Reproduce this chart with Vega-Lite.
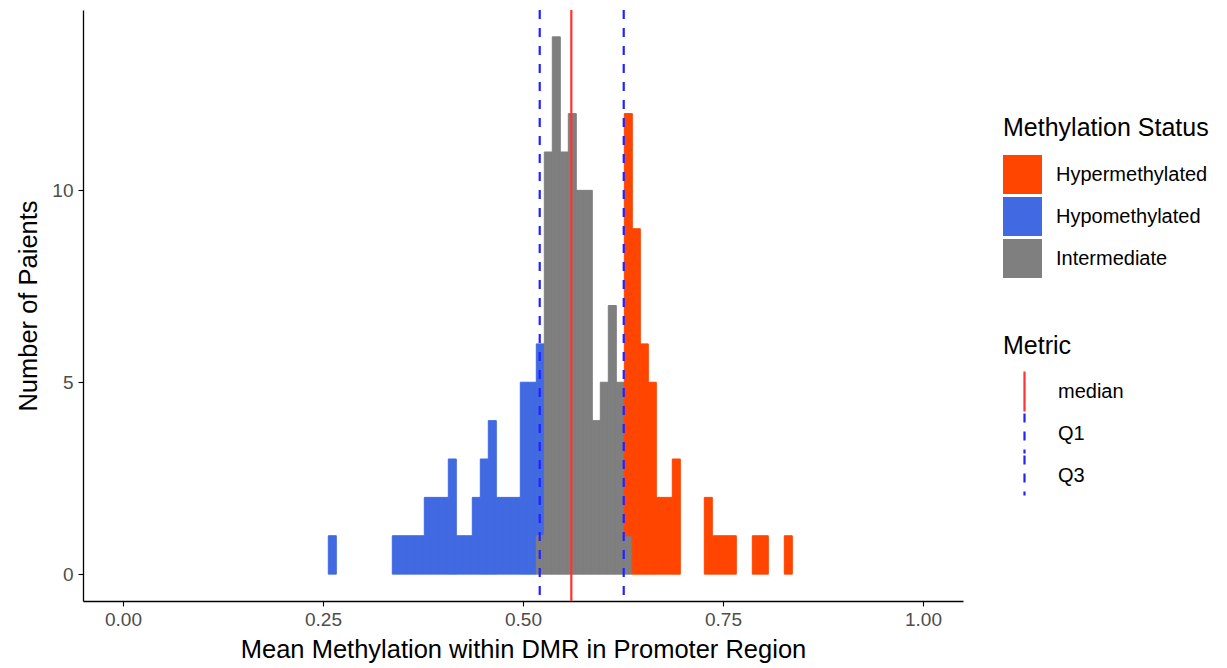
{
  "$schema": "https://vega.github.io/schema/vega-lite/v6.json",
  "width": 880,
  "height": 591,
  "autosize": {"type": "none"},
  "padding": {"left": 83, "top": 10, "right": 264, "bottom": 67},
  "background": "white",
  "config": {
    "font": "Liberation Sans",
    "view": {"stroke": null},
    "axis": {
      "grid": false,
      "domainColor": "black",
      "domainWidth": 1.3,
      "tickColor": "black",
      "tickWidth": 1.1,
      "tickSize": 5,
      "labelColor": "#4d4d4d",
      "labelFontSize": 19,
      "labelFont": "Liberation Sans",
      "titleFont": "Liberation Sans",
      "titleFontSize": 25.5,
      "titleFontWeight": "normal",
      "titleColor": "black"
    },
    "legend": {
      "titleFont": "Liberation Sans",
      "labelFont": "Liberation Sans",
      "titleFontSize": 25,
      "titleFontWeight": "normal",
      "titleColor": "black",
      "titleLimit": 400,
      "labelLimit": 300,
      "labelFontSize": 20,
      "labelColor": "black"
    }
  },
  "datasets": {
    "bins": [
      {"start": 0.256, "end": 0.266, "status": "Hypomethylated", "ord": 2, "count": 1},
      {"start": 0.336, "end": 0.346, "status": "Hypomethylated", "ord": 2, "count": 1},
      {"start": 0.346, "end": 0.356, "status": "Hypomethylated", "ord": 2, "count": 1},
      {"start": 0.356, "end": 0.366, "status": "Hypomethylated", "ord": 2, "count": 1},
      {"start": 0.366, "end": 0.376, "status": "Hypomethylated", "ord": 2, "count": 1},
      {"start": 0.376, "end": 0.386, "status": "Hypomethylated", "ord": 2, "count": 2},
      {"start": 0.386, "end": 0.396, "status": "Hypomethylated", "ord": 2, "count": 2},
      {"start": 0.396, "end": 0.406, "status": "Hypomethylated", "ord": 2, "count": 2},
      {"start": 0.406, "end": 0.416, "status": "Hypomethylated", "ord": 2, "count": 3},
      {"start": 0.416, "end": 0.426, "status": "Hypomethylated", "ord": 2, "count": 1},
      {"start": 0.426, "end": 0.436, "status": "Hypomethylated", "ord": 2, "count": 1},
      {"start": 0.436, "end": 0.446, "status": "Hypomethylated", "ord": 2, "count": 2},
      {"start": 0.446, "end": 0.456, "status": "Hypomethylated", "ord": 2, "count": 3},
      {"start": 0.456, "end": 0.466, "status": "Hypomethylated", "ord": 2, "count": 4},
      {"start": 0.466, "end": 0.476, "status": "Hypomethylated", "ord": 2, "count": 2},
      {"start": 0.476, "end": 0.486, "status": "Hypomethylated", "ord": 2, "count": 2},
      {"start": 0.486, "end": 0.496, "status": "Hypomethylated", "ord": 2, "count": 2},
      {"start": 0.496, "end": 0.506, "status": "Hypomethylated", "ord": 2, "count": 5},
      {"start": 0.506, "end": 0.516, "status": "Hypomethylated", "ord": 2, "count": 5},
      {"start": 0.516, "end": 0.526, "status": "Hypomethylated", "ord": 2, "count": 5},
      {"start": 0.516, "end": 0.526, "status": "Intermediate", "ord": 1, "count": 1},
      {"start": 0.526, "end": 0.536, "status": "Intermediate", "ord": 1, "count": 11},
      {"start": 0.536, "end": 0.546, "status": "Intermediate", "ord": 1, "count": 14},
      {"start": 0.546, "end": 0.556, "status": "Intermediate", "ord": 1, "count": 11},
      {"start": 0.556, "end": 0.566, "status": "Intermediate", "ord": 1, "count": 12},
      {"start": 0.566, "end": 0.576, "status": "Intermediate", "ord": 1, "count": 10},
      {"start": 0.576, "end": 0.586, "status": "Intermediate", "ord": 1, "count": 10},
      {"start": 0.586, "end": 0.596, "status": "Intermediate", "ord": 1, "count": 4},
      {"start": 0.596, "end": 0.606, "status": "Intermediate", "ord": 1, "count": 5},
      {"start": 0.606, "end": 0.616, "status": "Intermediate", "ord": 1, "count": 7},
      {"start": 0.616, "end": 0.626, "status": "Intermediate", "ord": 1, "count": 5},
      {"start": 0.626, "end": 0.636, "status": "Intermediate", "ord": 1, "count": 1},
      {"start": 0.626, "end": 0.636, "status": "Hypermethylated", "ord": 3, "count": 11},
      {"start": 0.636, "end": 0.646, "status": "Hypermethylated", "ord": 3, "count": 9},
      {"start": 0.646, "end": 0.656, "status": "Hypermethylated", "ord": 3, "count": 6},
      {"start": 0.656, "end": 0.666, "status": "Hypermethylated", "ord": 3, "count": 5},
      {"start": 0.666, "end": 0.676, "status": "Hypermethylated", "ord": 3, "count": 2},
      {"start": 0.676, "end": 0.686, "status": "Hypermethylated", "ord": 3, "count": 2},
      {"start": 0.686, "end": 0.696, "status": "Hypermethylated", "ord": 3, "count": 3},
      {"start": 0.726, "end": 0.736, "status": "Hypermethylated", "ord": 3, "count": 2},
      {"start": 0.736, "end": 0.746, "status": "Hypermethylated", "ord": 3, "count": 1},
      {"start": 0.746, "end": 0.756, "status": "Hypermethylated", "ord": 3, "count": 1},
      {"start": 0.756, "end": 0.766, "status": "Hypermethylated", "ord": 3, "count": 1},
      {"start": 0.786, "end": 0.796, "status": "Hypermethylated", "ord": 3, "count": 1},
      {"start": 0.796, "end": 0.806, "status": "Hypermethylated", "ord": 3, "count": 1},
      {"start": 0.826, "end": 0.836, "status": "Hypermethylated", "ord": 3, "count": 1}
    ],
    "metrics": [
      {"metric": "median", "value": 0.5604},
      {"metric": "Q1", "value": 0.5209},
      {"metric": "Q3", "value": 0.6259}
    ]
  },
  "layer": [
    {
      "data": {"name": "bins"},
      "mark": {
        "type": "bar",
        "binSpacing": 0,
        "opacity": 1,
        "strokeWidth": 1,
        "stroke": {"expr": "datum.status === 'Hypermethylated' ? '#FF4500' : datum.status === 'Hypomethylated' ? '#4169E1' : '#7F7F7F'"}
      },
      "encoding": {
        "x": {
          "field": "start",
          "type": "quantitative",
          "bin": {"binned": true, "step": 0.01},
          "scale": {"domain": [-0.05, 1.05], "nice": false, "zero": false},
          "axis": {
            "title": "Mean Methylation within DMR in Promoter Region",
            "values": [0, 0.25, 0.5, 0.75, 1],
            "format": ".2f",
            "labelPadding": 4,
            "titlePadding": 8
          }
        },
        "x2": {"field": "end"},
        "y": {
          "field": "count",
          "type": "quantitative",
          "stack": "zero",
          "scale": {"domain": [-0.7, 14.7], "nice": false, "zero": false},
          "axis": {
            "title": "Number of Paients",
            "values": [0, 5, 10],
            "labelPadding": 5,
            "titlePadding": 10
          }
        },
        "order": {"field": "ord", "sort": "ascending"},
        "fill": {
          "field": "status",
          "type": "nominal",
          "scale": {
            "domain": ["Hypermethylated", "Hypomethylated", "Intermediate"],
            "range": ["#FF4500", "#4169E1", "#7F7F7F"]
          },
          "legend": {
            "title": "Methylation Status",
            "orient": "none",
            "legendX": 920,
            "legendY": 106,
            "symbolType": "square",
            "symbolSize": 1521,
            "symbolStrokeWidth": 0,
            "symbolOpacity": 1,
            "rowPadding": 3,
            "labelOffset": 14,
            "titlePadding": 14
          }
        }
      }
    },
    {
      "data": {"name": "metrics"},
      "mark": {"type": "rule", "strokeWidth": 2.2},
      "encoding": {
        "x": {"field": "value", "type": "quantitative"},
        "stroke": {
          "field": "metric",
          "type": "nominal",
          "scale": {
            "domain": ["median", "Q1", "Q3"],
            "range": ["#FF3333", "#2222FF", "#2222FF"]
          },
          "legend": {
            "title": "Metric",
            "orient": "none",
            "legendX": 920,
            "legendY": 324,
            "symbolType": "M0,-1L0,1",
            "symbolSize": 1600,
            "symbolStrokeWidth": 2.2,
            "clipHeight": 41,
            "rowPadding": 1,
            "labelOffset": 12,
            "titlePadding": 12
          }
        },
        "strokeDash": {
          "field": "metric",
          "type": "nominal",
          "scale": {
            "domain": ["median", "Q1", "Q3"],
            "range": [[1, 0], [9, 9], [9, 9]]
          },
          "legend": null
        }
      }
    }
  ]
}
